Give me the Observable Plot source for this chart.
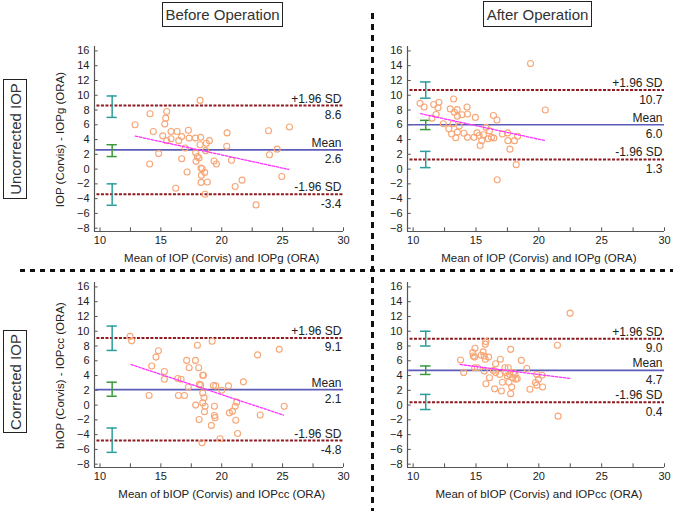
<!DOCTYPE html>
<html>
<head>
<meta charset="utf-8">
<script src="https://cdn.jsdelivr.net/npm/d3@7"></script>
<script src="https://cdn.jsdelivr.net/npm/@observablehq/plot@0.6"></script>
<style>
  html, body { margin: 0; padding: 0; background: #fff; }
  #wrap { position: relative; width: 673px; height: 511px; overflow: hidden; font-family: "Liberation Sans", Arial, sans-serif; color: #222; }
  .pane { position: absolute; }
  .coltitle { position: absolute; border: 1.5px solid #222; box-sizing: border-box; font-size: 15px; display: flex; align-items: center; justify-content: center; color: #333; }
  .rowtitle { position: absolute; border: 1.5px solid #222; box-sizing: border-box; }
  .rowtitle span { position: absolute; left: 50%; top: 50%; transform: translate(-50%, -50%) rotate(-90deg); white-space: nowrap; font-size: 15px; color: #333; }
  .vsep { position: absolute; left: 371px; top: 13px; width: 3px; height: 498px; background: repeating-linear-gradient(to bottom, #111 0 6px, transparent 6px 11px); }
  .hsep { position: absolute; left: 20px; top: 269px; width: 653px; height: 3px; background: repeating-linear-gradient(to right, #111 0 5px, transparent 5px 10px); }
</style>
</head>
<body>
<div id="wrap">
  <div class="coltitle" style="left:162px;top:2px;width:121px;height:25px;">Before Operation</div>
  <div class="coltitle" style="left:483px;top:1px;width:109px;height:26px;">After Operation</div>
  <div class="rowtitle" style="left:3px;top:79px;width:24px;height:120px;"><span>Uncorrected IOP</span></div>
  <div class="rowtitle" style="left:3px;top:330px;width:24px;height:103px;"><span>Corrected IOP</span></div>
  <div class="vsep"></div>
  <div class="hsep"></div>
</div>
<script>
// ---------- data ----------
const xDomain = [9.55, 30];
const yDomain = [-8.45, 16.6];
const xTicks = [10, 12.5, 15, 17.5, 20, 22.5, 25, 27.5, 30];
const yTicks = [-8, -6, -4, -2, 0, 2, 4, 6, 8, 10, 12, 14, 16];

const panelNames = ["beforeUncorrected", "afterUncorrected", "beforeCorrected", "afterCorrected"];

// Before operation, uncorrected: mean of IOP (Corvis) and IOPg (ORA) vs difference
const beforeUncorrMean = [12.88,14.11,14.08,14.38,14.82,15.15,15.32,15.4,15.48,15.48,15.84,15.84,16.22,16.33,16.47,16.71,16.71,17.15,17.26,17.32,16.99,17.84,17.86,17.89,18.0,18.13,18.22,18.27,18.22,18.3,18.33,18.3,18.38,18.6,18.63,18.74,18.68,18.82,18.99,19.37,19.56,20.41,20.44,20.8,21.1,21.67,22.82,23.84,23.92,24.55,24.93,25.56];
const beforeUncorrDiff = [6.0,7.5,0.68,5.1,2.1,4.5,6.1,6.9,7.8,3.85,5.1,4.1,-2.6,5.1,3.85,4.4,1.4,-0.4,5.25,4.2,2.85,4.2,2.2,1.05,1.7,1.5,9.3,4.3,3.3,0.14,-0.85,-1.8,0.05,-0.45,-3.4,3.5,2.5,-1.75,3.85,1.1,0.7,3.1,4.9,1.2,-2.35,-1.5,-4.85,5.2,1.95,2.7,-1.0,5.7];

// After operation, uncorrected
const afterUncorrMean = [10.55,10.87,11.64,11.83,11.97,12.05,11.5,12.4,12.84,12.95,13.06,13.17,13.22,13.28,13.39,13.5,13.52,13.52,13.66,13.88,14.04,14.29,14.32,14.32,14.95,14.84,15.08,15.25,15.33,15.46,15.6,15.79,15.98,16.07,16.23,16.39,16.42,16.67,16.69,17.1,17.51,17.54,17.7,18.06,18.2,18.31,19.34,20.52];
const afterUncorrDiff = [8.9,8.4,8.75,7.4,8.3,9.05,6.9,6.15,5.45,8.15,4.75,6.15,9.5,7.7,4.25,8.05,7.15,5.0,5.8,7.35,4.85,8.4,7.45,4.3,7.0,4.3,4.9,4.55,3.2,3.85,4.65,5.65,4.1,5.2,4.3,7.25,4.2,6.65,-1.45,4.75,4.9,3.85,2.7,3.85,0.6,4.45,14.3,8.0];

// Before operation, corrected: mean of bIOP (Corvis) and IOPcc (ORA)
const beforeCorrMean = [12.47,12.6,14.03,14.25,14.6,14.8,15.29,15.29,16.39,16.44,16.66,16.94,17.12,17.26,17.32,17.84,17.86,18.0,18.11,18.14,18.16,18.27,18.44,18.5,18.44,18.44,18.38,18.55,18.58,18.63,19.15,19.21,19.32,19.4,19.4,19.45,19.51,19.86,20.0,20.55,20.63,20.88,21.1,21.15,21.23,21.3,21.78,22.94,23.16,24.72,25.13];
const beforeCorrDiff = [9.3,8.7,1.3,5.3,6.5,7.35,4.55,3.5,3.6,1.3,3.5,1.3,6.05,2.45,5.05,6.05,0.0,8.1,5.05,-1.95,2.8,2.7,4.05,4.05,1.65,0.3,-5.1,1.0,-0.9,-0.15,-2.75,8.65,2.65,-0.15,-1.4,-1.7,2.6,-4.55,2.0,2.6,-1.05,-0.85,-0.15,-2.05,0.4,-3.85,3.15,6.8,-1.35,7.55,-0.15];

// After operation, corrected
const afterCorrMean = [13.77,14.02,14.75,14.92,14.78,14.89,14.89,15.11,15.41,15.57,15.66,15.74,15.79,15.74,15.66,15.79,16.01,16.07,16.39,16.56,16.56,16.48,16.94,16.89,17.02,17.1,17.3,17.38,17.49,17.57,17.62,17.68,17.76,17.76,17.84,17.92,17.98,18.11,18.17,18.28,18.61,19.04,19.29,19.73,19.84,19.84,19.97,20.25,20.3,21.48,21.53,22.49];
const afterCorrDiff = [6.1,4.4,7.1,7.7,6.65,6.5,5.05,5.05,6.75,7.2,6.65,8.25,8.6,6.2,4.6,2.9,6.5,3.7,4.7,5.6,4.4,2.2,6.2,4.15,1.9,3.1,5.05,4.4,3.95,5.05,3.1,4.15,7.55,1.55,2.45,3.7,4.4,4.15,3.5,3.6,6.05,4.95,2.15,3.05,4.15,2.7,3.5,4.05,2.45,8.1,-1.5,12.45];

// Bland–Altman statistics per panel (order: panelNames)
const bias = [2.6, 6.0, 2.1, 4.7];
const upperLoA = [8.6, 10.7, 9.1, 9.0];
const lowerLoA = [-3.4, 1.3, -4.8, 0.4];
const upperCiLow = [7.0, 9.6, 7.4, 8.0];
const upperCiHigh = [9.9, 11.8, 10.7, 10.0];
const biasCiLow = [1.7, 5.35, 1.2, 4.15];
const biasCiHigh = [3.3, 6.6, 3.1, 5.3];
const lowerCiLow = [-4.9, 0.2, -6.4, -0.6];
const lowerCiHigh = [-2.0, 2.4, -3.1, 1.45];
const ciX = 11;
const regStartX = [12.9, 10.6, 12.55, 13.74];
const regStartY = [4.47, 7.5, 5.5, 5.5];
const regEndX = [25.5, 20.52, 25.07, 22.49];
const regEndY = [-0.05, 3.85, -1.36, 3.6];

const xTitles = ["Mean of IOP (Corvis) and IOPg (ORA)", "Mean of IOP (Corvis) and IOPg (ORA)", "Mean of bIOP (Corvis) and IOPcc (ORA)", "Mean of bIOP (Corvis) and IOPcc (ORA)"];
const yTitles = ["IOP (Corvis) - IOPg (ORA)", null, "bIOP (Corvis) - IOPcc (ORA)", null];
const pointMeans = [beforeUncorrMean, afterUncorrMean, beforeCorrMean, afterCorrMean];
const pointDiffs = [beforeUncorrDiff, afterUncorrDiff, beforeCorrDiff, afterCorrDiff];

// ---------- layout ----------
const layouts = [
  {left: 0, top: 30, width: 350, height: 240, mL: 94, mR: 7, mT: 16, mB: 39},
  {left: 375, top: 30, width: 296, height: 240, mL: 32, mR: 7, mT: 16, mB: 39},
  {left: 0, top: 270, width: 350, height: 240, mL: 94, mR: 7, mT: 12, mB: 43},
  {left: 375, top: 270, width: 296, height: 240, mL: 32, mR: 7, mT: 12, mB: 43}
];

const colors = {
  axis: "#555",
  point: "#f7a676",
  limit: "#8e1b22",
  mean: "#5c5cb8",
  ciLimit: "#2a9d9a",
  ciMean: "#3a9a3a",
  reg: "#ff33ff"
};

function panel(i) {
  const L = layouts[i];
  const pts = pointMeans[i].map((m, k) => ({m, d: pointDiffs[i][k]}));
  const reg = [{x: regStartX[i], y: regStartY[i]}, {x: regEndX[i], y: regEndY[i]}];
  const cis = [
    {lo: upperCiLow[i], hi: upperCiHigh[i], c: colors.ciLimit},
    {lo: biasCiLow[i], hi: biasCiHigh[i], c: colors.ciMean},
    {lo: lowerCiLow[i], hi: lowerCiHigh[i], c: colors.ciLimit}
  ];
  const caps = cis.flatMap(c => [{y: c.lo, c: c.c}, {y: c.hi, c: c.c}]);
  const refs = [
    {y: upperLoA[i], top: "+1.96 SD", bottom: upperLoA[i].toFixed(1)},
    {y: bias[i], top: "Mean", bottom: bias[i].toFixed(1)},
    {y: lowerLoA[i], top: "-1.96 SD", bottom: lowerLoA[i].toFixed(1)}
  ];
  const midX = (xTicks[0] + xTicks[xTicks.length - 1]) / 2;
  const midY = (yTicks[0] + yTicks[yTicks.length - 1]) / 2;
  const marks = [
    // axis lines
    Plot.ruleX([xDomain[0]], {y1: yDomain[0], y2: yDomain[1], stroke: colors.axis, strokeWidth: 1.2}),
    Plot.ruleY([yDomain[0]], {x1: xDomain[0], x2: xDomain[1], stroke: colors.axis, strokeWidth: 1.2}),
    // inward ticks
    Plot.ruleY(yTicks, {y: d => d, x1: xDomain[0], x2: xDomain[0] + 0.3, stroke: colors.axis}),
    Plot.ruleX(xTicks, {x: d => d, y1: yDomain[0], y2: yDomain[0] + 0.5, stroke: colors.axis}),
    Plot.axisY({ticks: yTicks, tickSize: 0, tickPadding: 5, label: null, fontSize: 11}),
    Plot.axisX({ticks: xTicks, tickSize: 0, tickPadding: 5, label: null, fontSize: 11,
      tickFormat: d => d % 5 === 0 ? String(d) : ""}),
    // limits of agreement & mean
    Plot.ruleY([upperLoA[i], lowerLoA[i]], {y: d => d, x1: xDomain[0] + 0.2, x2: xDomain[1], stroke: colors.limit, strokeWidth: 2, strokeDasharray: "3,1.5"}),
    Plot.ruleY([bias[i]], {y: d => d, x1: xDomain[0] + 0.1, x2: xDomain[1], stroke: colors.mean, strokeWidth: 1.6}),
    // confidence interval bars
    Plot.ruleX(cis, {x: () => ciX, y1: "lo", y2: "hi", stroke: "c", strokeWidth: 1.5}),
    Plot.ruleY(caps, {y: "y", x1: () => ciX - 0.42, x2: () => ciX + 0.42, stroke: "c", strokeWidth: 1.5}),
    // points
    Plot.dot(pts, {x: "m", y: "d", r: 3, stroke: colors.point, fill: "none", strokeWidth: 1.1}),
    // regression line
    Plot.line(reg, {x: "x", y: "y", stroke: colors.reg, strokeWidth: 1.3, strokeDasharray: "2.5,1.5"}),
    // reference labels
    Plot.text(refs, {x: () => xDomain[1], y: "y", text: "top", textAnchor: "end", lineAnchor: "bottom", dx: -2, dy: -3, fontSize: 12, fill: "#222"}),
    Plot.text(refs, {x: () => xDomain[1], y: "y", text: "bottom", textAnchor: "end", lineAnchor: "top", dx: -2, dy: 5, fontSize: 12, fill: "#222"}),
    // x title
    Plot.text([xTitles[i]], {x: () => midX, frameAnchor: "bottom", text: d => d, textAnchor: "middle", lineAnchor: "middle", dy: 27, fontSize: 11.5, fill: "#222"})
  ];
  if (yTitles[i]) {
    marks.push(Plot.text([yTitles[i]], {y: () => midY, frameAnchor: "left", text: d => d, rotate: -90, textAnchor: "middle", lineAnchor: "middle", dx: -34, fontSize: 11.5, fill: "#222"}));
  }
  const svg = Plot.plot({
    width: L.width, height: L.height,
    marginLeft: L.mL, marginRight: L.mR, marginTop: L.mT, marginBottom: L.mB,
    x: {domain: xDomain},
    y: {domain: yDomain},
    style: {fontFamily: "'Liberation Sans', Arial, sans-serif", fontSize: "11px", color: "#222", background: "transparent", overflow: "visible"},
    marks
  });
  const holder = document.createElement("div");
  holder.className = "pane";
  holder.style.left = L.left + "px";
  holder.style.top = L.top + "px";
  holder.appendChild(svg);
  document.getElementById("wrap").appendChild(holder);
}

panelNames.forEach((_, i) => panel(i));
</script>
</body>
</html>
